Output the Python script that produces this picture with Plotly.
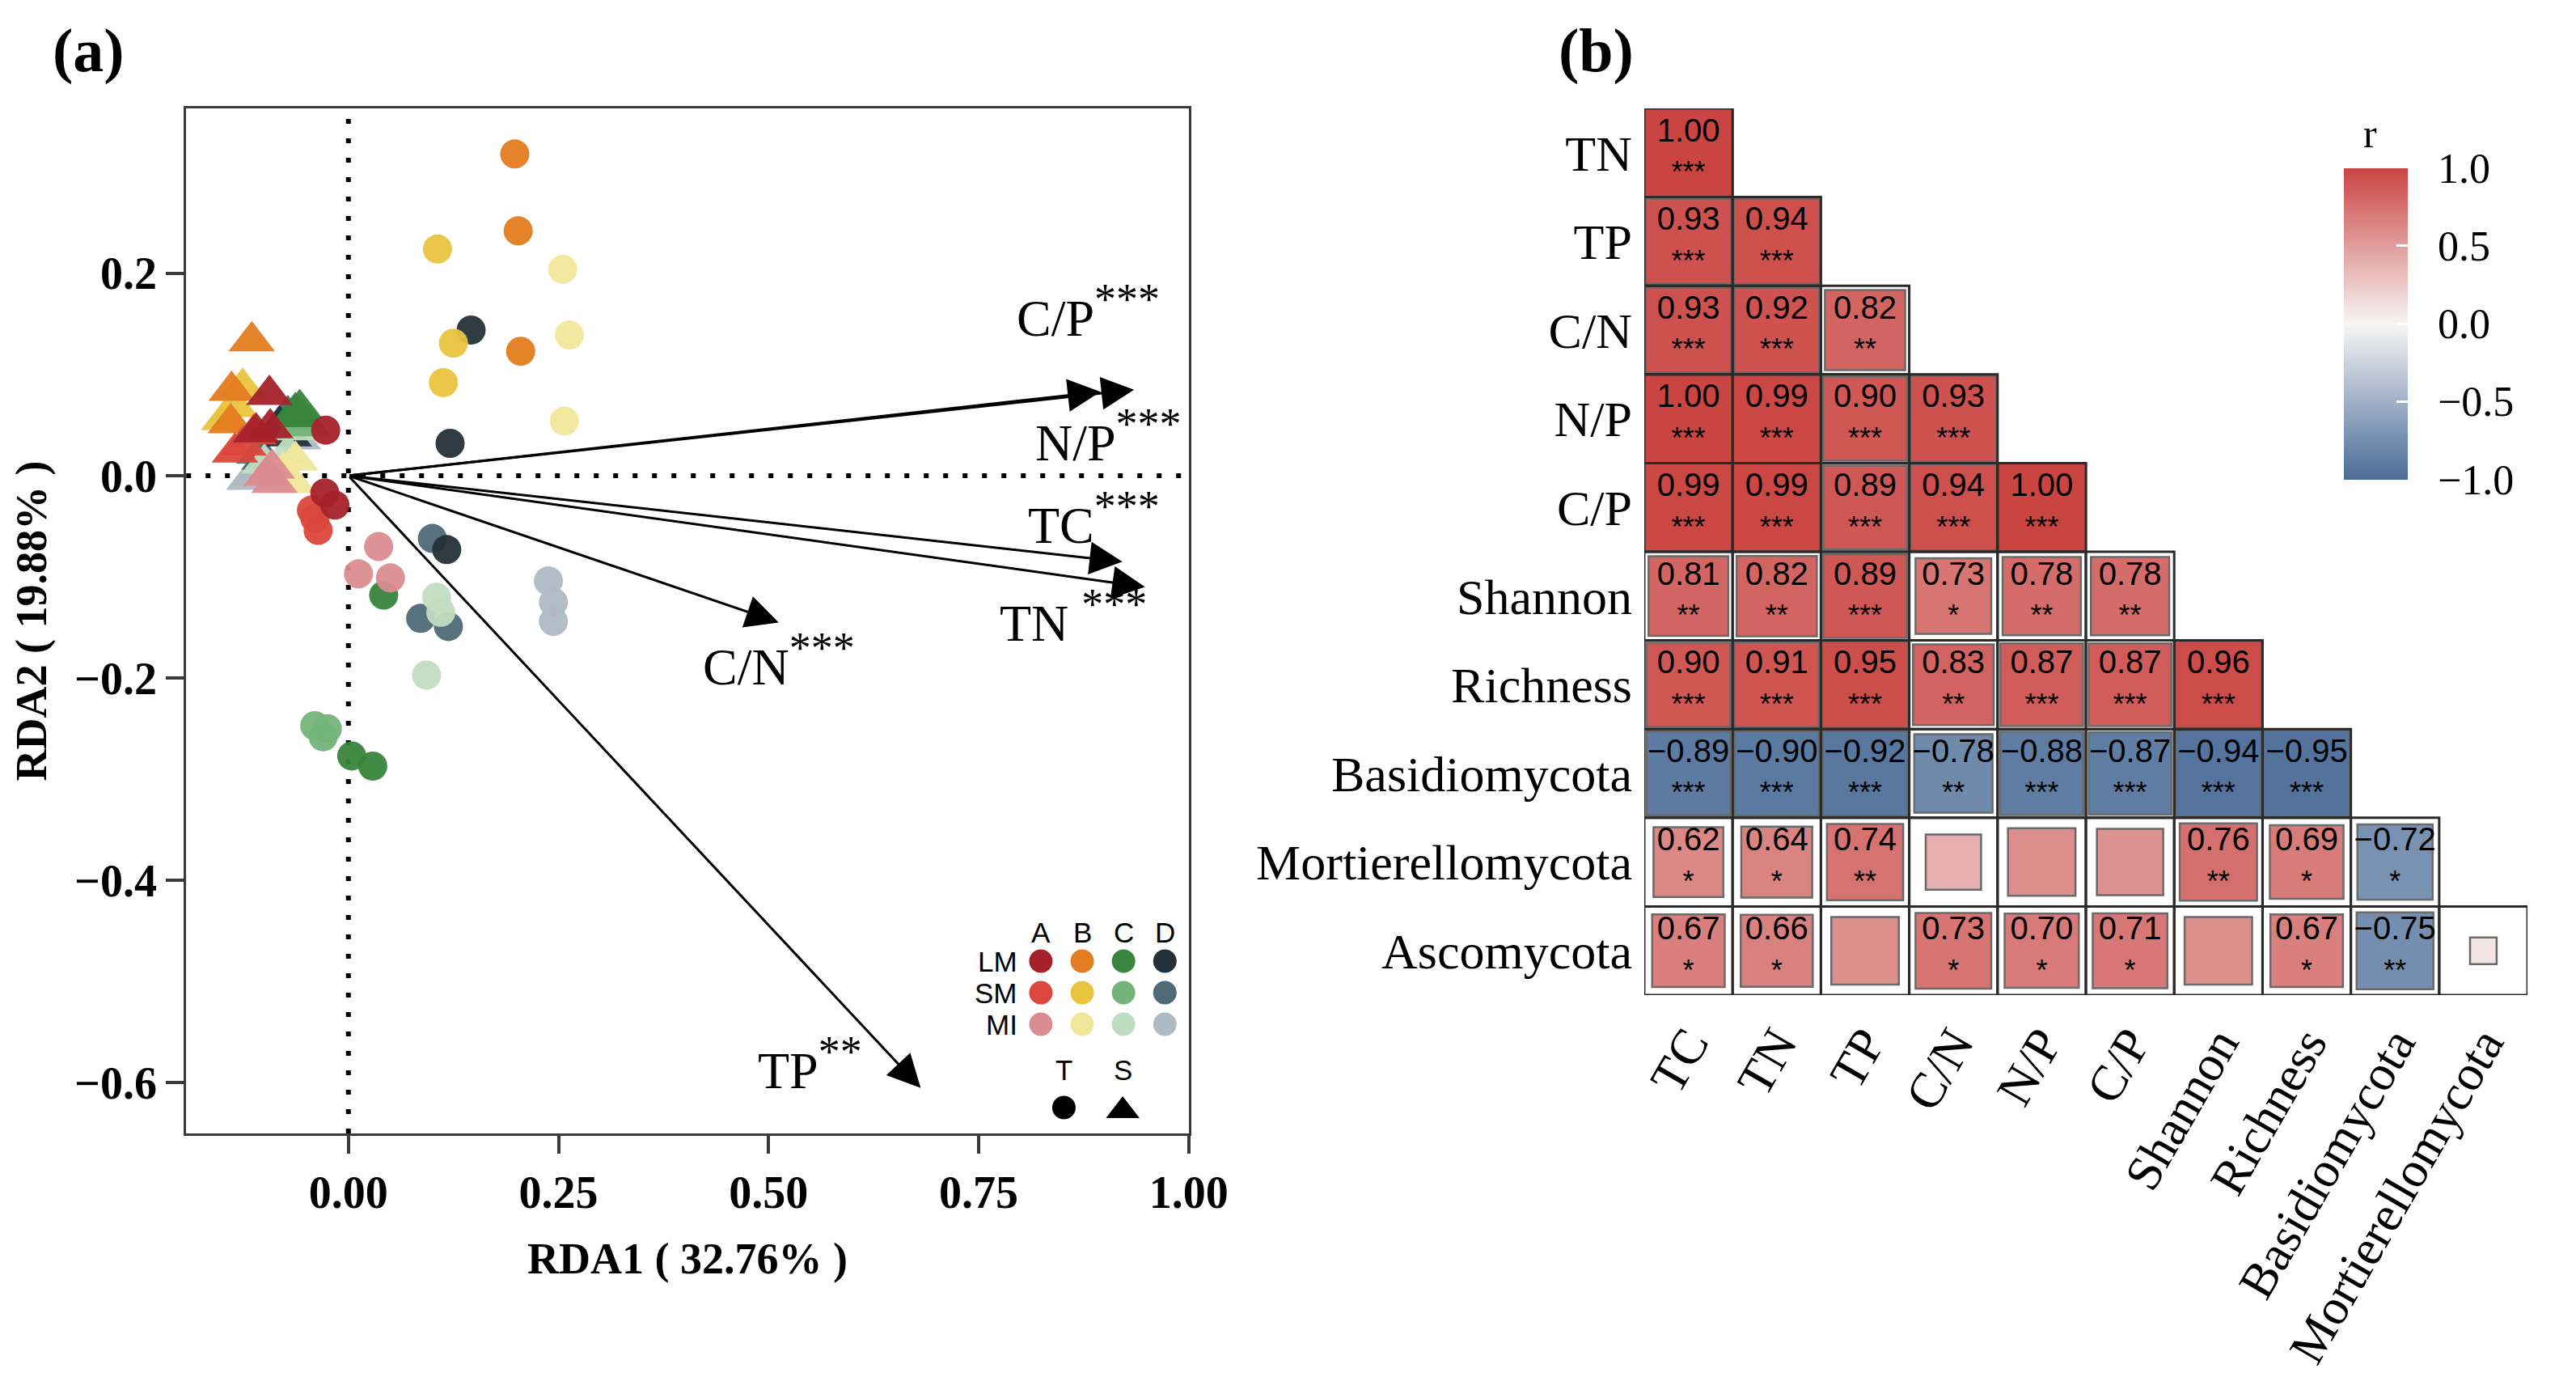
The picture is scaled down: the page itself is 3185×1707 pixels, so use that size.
import numpy as np
import plotly.graph_objects as go

# page is 3185x1707; the html body adds an 8px margin, so the figure is sized to fit
PAGE_W, PAGE_H = 3185, 1707
OFF = 8
W, H = PAGE_W - 2 * OFF, PAGE_H - 2 * OFF


def fx(X):
    return (X - OFF) / W


def fy(Y):
    return 1 - (Y - OFF) / H


# ---------------- Panel (a): RDA ----------------
sites = ["A", "B", "C", "D"]
positions = ["LM", "SM", "MI"]
colors_A = ["#A5222A", "#DA473C", "#DB8C90"]
colors_B = ["#E47C20", "#EAC43F", "#F1E79B"]
colors_C = ["#38853D", "#74B47A", "#C1DDC1"]
colors_D = ["#243138", "#4E6A77", "#AEBBC3"]
site_colors = [colors_A, colors_B, colors_C, colors_D]

# sample scores (3 replicates per site x position), order A-LM, A-SM, A-MI, B-LM, ...
rda1_T = [-0.027, -0.028, -0.016,  -0.044, -0.036, -0.040,  0.012, 0.036, 0.050,
          0.198, 0.202, 0.205,     0.106, 0.125, 0.113,     0.255, 0.263, 0.257,
          0.042, 0.004, 0.029,     -0.040, -0.025, -0.030,  0.105, 0.110, 0.093,
          0.146, 0.121, 0.117,     0.100, 0.086, 0.119,     0.238, 0.244, 0.244]
rda2_T = [0.045, -0.017, -0.029,   -0.034, -0.054, -0.042,  -0.097, -0.070, -0.101,
          0.318, 0.242, 0.123,     0.224, 0.131, 0.092,     0.204, 0.139, 0.054,
          -0.118, -0.277, -0.287,  -0.247, -0.250, -0.258,  -0.120, -0.135, -0.197,
          0.144, 0.032, -0.073,    -0.062, -0.141, -0.149,  -0.104, -0.125, -0.144]
rda1_S = [-0.094, -0.110, -0.093,  -0.135, -0.113, -0.125,  -0.091, -0.088, -0.097,
          -0.115, -0.139, -0.140,  -0.126, -0.148, -0.135,  -0.063, -0.066, -0.078,
          -0.063, -0.058, -0.061,  -0.054, -0.049, -0.052,  -0.062, -0.072, -0.100,
          -0.071, -0.076, -0.082,  -0.072, -0.100, -0.106,  -0.060, -0.118, -0.110]
rda2_S = [0.080, 0.043, 0.047,     0.023, 0.041, 0.030,     0.007, -0.007, 0.000,
          0.133, 0.084, 0.052,     0.087, 0.055, 0.068,     0.015, -0.007, 0.004,
          0.063, 0.066, 0.058,     0.057, 0.049, 0.053,     0.045, 0.022, 0.012,
          0.039, 0.045, 0.050,     0.060, 0.016, 0.022,     0.036, -0.004, 0.001]

env_names = ["TC", "TN", "TP", "C/N", "N/P", "C/P"]
env_rda1 = [0.921, 0.948, 0.681, 0.512, 0.895, 0.935]
env_rda2 = [-0.085, -0.110, -0.605, -0.145, 0.083, 0.085]
env_sig = ["***", "***", "**", "***", "***", "***"]
env_sep = ["", " ", "", "", "", ""]
# label offsets from arrow tips (pixels)
label_dx = [-35, -89, -137, 0, 10, -57]
label_dy = [54, -36, 30, -46, -54, 97]

# ---------------- Panel (b): correlation ----------------
hm_rows = ["TN", "TP", "C/N", "N/P", "C/P", "Shannon", "Richness",
           "Basidiomycota", "Mortierellomycota", "Ascomycota"]
hm_cols = ["TC", "TN", "TP", "C/N", "N/P", "C/P", "Shannon", "Richness",
           "Basidiomycota", "Mortierellomycota"]
r_TN = [1.00]
r_TP = [0.93, 0.94]
r_CN = [0.93, 0.92, 0.82]
r_NP = [1.00, 0.99, 0.90, 0.93]
r_CP = [0.99, 0.99, 0.89, 0.94, 1.00]
r_Shannon = [0.81, 0.82, 0.89, 0.73, 0.78, 0.78]
r_Richness = [0.90, 0.91, 0.95, 0.83, 0.87, 0.87, 0.96]
r_Basidio = [-0.89, -0.90, -0.92, -0.78, -0.88, -0.87, -0.94, -0.95]
r_Mortier = [0.62, 0.64, 0.74, 0.39, 0.58, 0.56, 0.76, 0.69, -0.72]
r_Ascomy = [0.67, 0.66, 0.58, 0.73, 0.70, 0.71, 0.58, 0.67, -0.75, 0.09]
p_TN = ["***"]
p_TP = ["***", "***"]
p_CN = ["***", "***", "**"]
p_NP = ["***", "***", "***", "***"]
p_CP = ["***", "***", "***", "***", "***"]
p_Shannon = ["**", "**", "***", "*", "**", "**"]
p_Richness = ["***", "***", "***", "**", "***", "***", "***"]
p_Basidio = ["***", "***", "***", "**", "***", "***", "***", "***"]
p_Mortier = ["*", "*", "**", "", "", "", "**", "*", "*"]
p_Ascomy = ["*", "*", "", "*", "*", "*", "", "*", "**", ""]
corr_r = [r_TN, r_TP, r_CN, r_NP, r_CP, r_Shannon, r_Richness, r_Basidio, r_Mortier, r_Ascomy]
corr_p = [p_TN, p_TP, p_CN, p_NP, p_CP, p_Shannon, p_Richness, p_Basidio, p_Mortier, p_Ascomy]

corr_scale = [[0.0, "#4A6C98"], [0.5, "#F7F5F5"], [1.0, "#CA4542"]]

SERIF = "Liberation Serif"
SANS = "Liberation Sans"

# ---------------- geometry (reference page pixels) ----------------
a_left, a_right, a_top, a_bot = 229, 1490, 134, 1401
b_left, b_right, b_top, b_bot = 2063, 3174, 134, 1230
x_range = [-0.193, 1.0]
y_range = [-0.650, 0.363]

fig = go.Figure()

# ---- panel (a) points ----
for si in reversed(range(len(sites))):
    for pi in reversed(range(len(positions))):
        g = si * 3 + pi
        sl = slice(g * 3, g * 3 + 3)
        fig.add_trace(go.Scatter(
            x=rda1_S[sl], y=rda2_S[sl], mode="markers",
            marker=dict(symbol="triangle-up", size=50, color=site_colors[si][pi],
                        opacity=0.95, line=dict(width=0)),
            xaxis="x", yaxis="y", showlegend=False,
            name=f"{sites[si]}-{positions[pi]} S"))
for si in reversed(range(len(sites))):
    for pi in reversed(range(len(positions))):
        g = si * 3 + pi
        sl = slice(g * 3, g * 3 + 3)
        fig.add_trace(go.Scatter(
            x=rda1_T[sl], y=rda2_T[sl], mode="markers",
            marker=dict(symbol="circle", size=36, color=site_colors[si][pi],
                        opacity=0.95, line=dict(width=0)),
            xaxis="x", yaxis="y", showlegend=False,
            name=f"{sites[si]}-{positions[pi]} T"))

annotations = []
shapes = []

# dotted zero lines
shapes.append(dict(type="line", xref="x", yref="y domain", x0=0, x1=0, y0=0, y1=1,
                   line=dict(color="black", width=6, dash="6px,18px"), layer="below"))
shapes.append(dict(type="line", xref="x domain", yref="y", x0=0, x1=1, y0=0, y1=0,
                   line=dict(color="black", width=6, dash="6px,18px"), layer="below"))

# environmental arrows and labels
for k, nm in enumerate(env_names):
    annotations.append(dict(
        x=env_rda1[k], y=env_rda2[k], ax=0, ay=0, xref="x", yref="y",
        axref="x", ayref="y", text="", showarrow=True, arrowhead=2,
        arrowsize=2.7, arrowwidth=3, arrowcolor="black", standoff=0, startstandoff=0))
    annotations.append(dict(
        x=env_rda1[k], y=env_rda2[k], xref="x", yref="y", showarrow=False,
        text=f"{nm}{env_sep[k]}<sup><span style='font-size:54px'>{env_sig[k]}</span></sup>",
        xshift=label_dx[k], yshift=label_dy[k], xanchor="center", yanchor="middle",
        font=dict(family=SERIF, size=64, color="black")))

# ---- legend of panel (a), drawn on a pixel overlay ----
leg_col_x = [1304, 1356, 1408, 1460]
leg_row_y = [1188, 1227, 1266]
leg_x, leg_y, leg_c = [], [], []
for si in range(len(sites)):
    for pi in range(len(positions)):
        leg_x.append(leg_col_x[si])
        leg_y.append(leg_row_y[pi])
        leg_c.append(site_colors[si][pi])
fig.add_trace(go.Scatter(x=leg_x, y=leg_y, mode="markers",
                         marker=dict(size=29, color=leg_c, line=dict(width=0)),
                         xaxis="x3", yaxis="y3", showlegend=False))
fig.add_trace(go.Scatter(x=[1333], y=[1369], mode="markers",
                         marker=dict(size=29, color="black", symbol="circle"),
                         xaxis="x3", yaxis="y3", showlegend=False))
fig.add_trace(go.Scatter(x=[1407], y=[1373], mode="markers",
                         marker=dict(size=36, color="black", symbol="triangle-up"),
                         xaxis="x3", yaxis="y3", showlegend=False))
for si, s in enumerate(sites):
    annotations.append(dict(x=leg_col_x[si], y=1152, xref="x3", yref="y3", text=s,
                            showarrow=False, font=dict(family=SANS, size=35, color="black")))
for pi, p in enumerate(positions):
    annotations.append(dict(x=1277, y=leg_row_y[pi], xref="x3", yref="y3", text=p,
                            showarrow=False, xanchor="right",
                            font=dict(family=SANS, size=35, color="black")))
annotations.append(dict(x=1333, y=1322, xref="x3", yref="y3", text="T", showarrow=False,
                        font=dict(family=SANS, size=35, color="black")))
annotations.append(dict(x=1407, y=1322, xref="x3", yref="y3", text="S", showarrow=False,
                        font=dict(family=SANS, size=35, color="black")))

# panel tags
annotations.append(dict(x=106, y=62, xref="x3", yref="y3", text="(a)", showarrow=False,
                        font=dict(family=SERIF, size=76, color="black", weight="bold")))
annotations.append(dict(x=2002, y=62, xref="x3", yref="y3", text="(b)", showarrow=False,
                        font=dict(family=SERIF, size=76, color="black", weight="bold")))
# colour-bar title
annotations.append(dict(x=2976, y=165, xref="x3", yref="y3", text="r", showarrow=False,
                        font=dict(family=SERIF, size=50, color="black")))

# ---------------- panel (b) ----------------
cell_px = (b_bot - b_top) / len(hm_rows)
sq_x, sq_y, sq_r, sq_size = [], [], [], []
val_x, val_y, val_t = [], [], []
star_x, star_y, star_t = [], [], []
for i, row in enumerate(corr_r):
    for j, r in enumerate(row):
        sq_x.append(j)
        sq_y.append(i)
        sq_r.append(r)
        sq_size.append(np.sqrt(abs(r)) * cell_px)
        shapes.append(dict(type="rect", xref="x2", yref="y2",
                           x0=j - 0.5, x1=j + 0.5, y0=i - 0.5, y1=i + 0.5,
                           line=dict(color="#2a2a2a", width=3), fillcolor="rgba(0,0,0,0)"))
        if corr_p[i][j]:
            val_x.append(j)
            val_y.append(i - 0.22)
            val_t.append(f"{r:.2f}".replace("-", "\u2212"))
            star_x.append(j)
            star_y.append(i + 0.25)
            star_t.append(corr_p[i][j])

fig.add_trace(go.Scatter(
    x=sq_x, y=sq_y, mode="markers", xaxis="x2", yaxis="y2", showlegend=False,
    marker=dict(symbol="square", size=sq_size, color=sq_r, colorscale=corr_scale,
                cmin=-1, cmax=1, line=dict(color="#6a6a6a", width=2.5), opacity=1,
                showscale=True,
                colorbar=dict(
                    x=fx(2943), xanchor="left", y=fy(400), yanchor="middle",
                    len=385, lenmode="pixels", thickness=79, thicknessmode="pixels",
                    outlinewidth=0, xpad=0, ypad=0,
                    tickvals=[-1, -0.5, 0, 0.5, 1],
                    ticktext=["  \u22121.0", "  \u22120.5", "  0.0", "  0.5", "  1.0"],
                    ticks="inside", ticklen=14, tickwidth=3, tickcolor="white",
                    tickfont=dict(family=SERIF, size=52, color="black")))))
fig.add_trace(go.Scatter(x=val_x, y=val_y, mode="text", text=val_t, xaxis="x2", yaxis="y2",
                         textfont=dict(family=SANS, size=40, color="black"),
                         showlegend=False))
fig.add_trace(go.Scatter(x=star_x, y=star_y, mode="text", text=star_t, xaxis="x2", yaxis="y2",
                         textfont=dict(family=SANS, size=36, color="black"),
                         showlegend=False))

axis_line = "#3a3a3a"
fig.update_layout(
    width=W, height=H, margin=dict(l=0, r=0, t=0, b=0),
    paper_bgcolor="white", plot_bgcolor="rgba(0,0,0,0)",
    showlegend=False,
    xaxis=dict(domain=[fx(a_left), fx(a_right)], range=x_range, anchor="y",
               showgrid=False, zeroline=False, showline=True, mirror=True,
               linecolor=axis_line, linewidth=3, ticks="outside", ticklen=22,
               tickwidth=4, tickcolor=axis_line,
               tickvals=[0, 0.25, 0.5, 0.75, 1.0],
               ticktext=["0.00", "0.25", "0.50", "0.75", "1.00"],
               tickfont=dict(family=SERIF, size=56, color="black", weight="bold"),
               title=dict(text="RDA1 ( 32.76% )", standoff=32,
                          font=dict(family=SERIF, size=54, color="black", weight="bold"))),
    yaxis=dict(domain=[fy(a_bot), fy(a_top)], range=y_range, anchor="x",
               showgrid=False, zeroline=False, showline=True, mirror=True,
               linecolor=axis_line, linewidth=3, ticks="outside", ticklen=22,
               tickwidth=4, tickcolor=axis_line,
               tickvals=[-0.6, -0.4, -0.2, 0.0, 0.2],
               ticktext=["\u22120.6", "\u22120.4", "\u22120.2", "0.0", "0.2"],
               tickfont=dict(family=SERIF, size=56, color="black", weight="bold"),
               title=dict(text="RDA2 ( 19.88% )", standoff=18,
                          font=dict(family=SERIF, size=54, color="black", weight="bold"))),
    xaxis2=dict(domain=[fx(b_left), fx(b_right)], range=[-0.5, len(hm_cols) - 0.5],
                anchor="y2", showgrid=False, zeroline=False, showline=False, ticks="",
                tickvals=list(range(len(hm_cols))), ticktext=hm_cols, tickangle=-60,
                ticklabelstandoff=10,
                tickfont=dict(family=SERIF, size=62, color="black")),
    yaxis2=dict(domain=[fy(b_bot), fy(b_top)], range=[len(hm_rows) - 0.5, -0.5],
                anchor="x2", showgrid=False, zeroline=False, showline=False, ticks="",
                tickvals=list(range(len(hm_rows))), ticktext=hm_rows,
                ticklabelstandoff=14,
                tickfont=dict(family=SERIF, size=62, color="black")),
    xaxis3=dict(domain=[0, 1], range=[OFF, OFF + W], anchor="y3", visible=False,
                fixedrange=True),
    yaxis3=dict(domain=[0, 1], range=[OFF + H, OFF], anchor="x3", visible=False,
                fixedrange=True),
    annotations=annotations, shapes=shapes,
)

fig.write_html("out.html")
